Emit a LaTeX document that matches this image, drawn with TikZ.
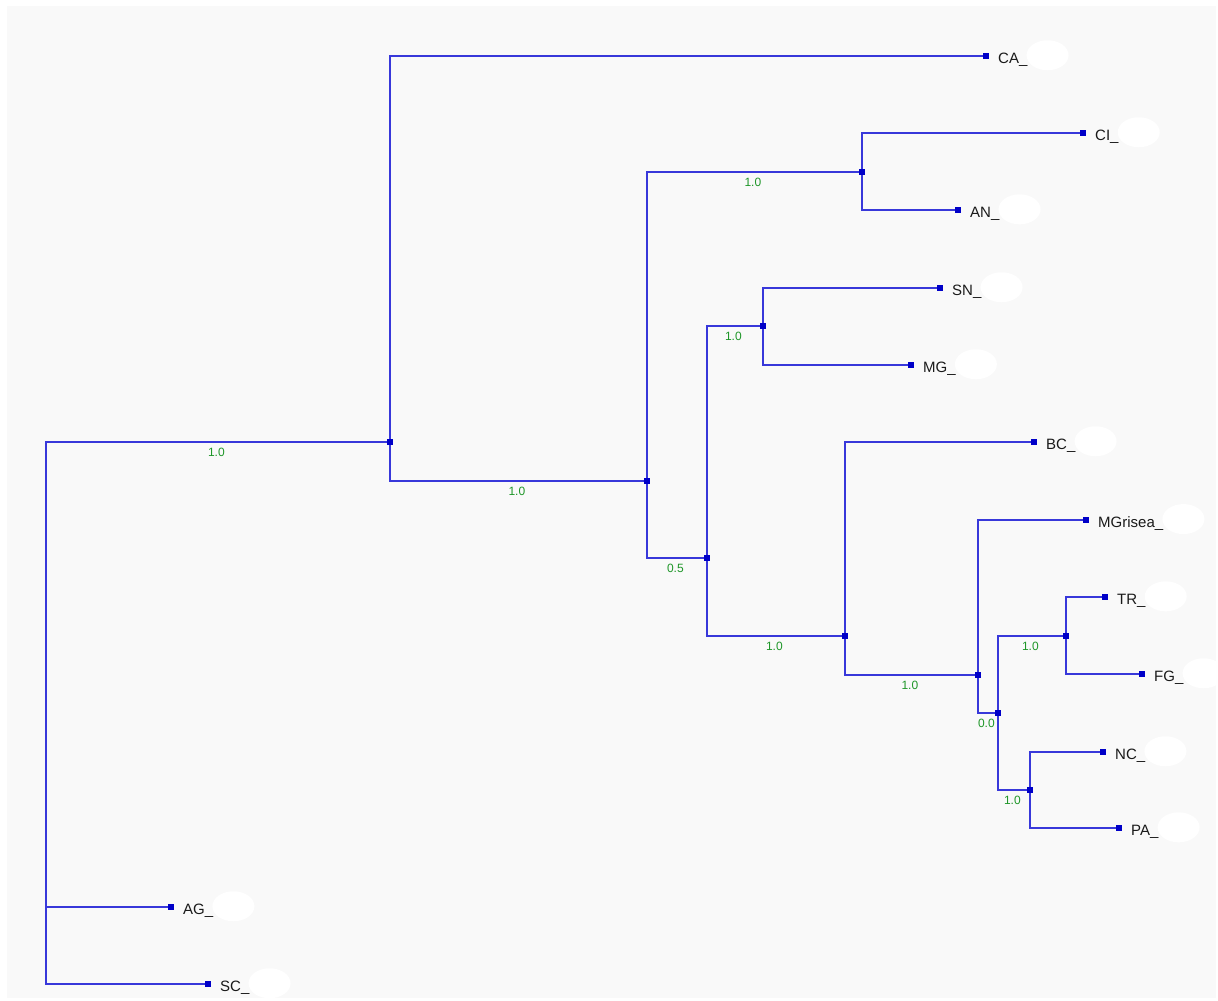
\documentclass[tikz,border=0pt]{standalone}
\usepackage{fontspec}
\setmainfont{Liberation Sans}
\usetikzlibrary{calc}
\definecolor{bg}{HTML}{F9F9F9}
\definecolor{linec}{HTML}{3838DA}
\definecolor{sqc}{HTML}{0000C8}
\definecolor{lblg}{HTML}{1E9628}
\definecolor{txt}{HTML}{1A1A1A}
\tikzset{
  jn/.style={rectangle, fill=sqc, minimum size=6pt, inner sep=0pt},
  br/.style={draw=linec, line width=1.6pt},
  bl/.style={font=\fontsize{12}{12}\selectfont, text=lblg, anchor=base, yshift=-14pt, inner sep=0pt},
  leaflbl/.style={font=\fontsize{15}{15}\selectfont, text=txt, anchor=base west, inner sep=0pt},
  blob/.style={fill=white, draw=none, ellipse, minimum width=42pt, minimum height=30pt}
}
\usetikzlibrary{shapes.geometric}
\begin{document}
\begin{tikzpicture}[x=1pt,y=-1pt]
\useasboundingbox (0,0) rectangle (1218,1001);
\fill[bg] (7,6) rectangle (1216,998);
% internal nodes
\coordinate (root) at (46,713);
\node[jn] (n1) at (390,442) {};
\node[jn] (n2) at (647,481) {};
\node[jn] (n3) at (862,172) {};
\node[jn] (n4) at (707,558) {};
\node[jn] (n5) at (763,326) {};
\node[jn] (n6) at (845,636) {};
\node[jn] (n7) at (978,675) {};
\node[jn] (n8) at (998,713) {};
\node[jn] (n9) at (1066,636) {};
\node[jn] (n10) at (1030,790) {};
% leaves
\node[jn] (CA) at (986,56) {};
\node[jn] (CI) at (1083,133) {};
\node[jn] (AN) at (958,210) {};
\node[jn] (SN) at (940,288) {};
\node[jn] (MG) at (911,365) {};
\node[jn] (BC) at (1034,442) {};
\node[jn] (MGr) at (1086,520) {};
\node[jn] (TR) at (1105,597) {};
\node[jn] (FG) at (1142,674) {};
\node[jn] (NC) at (1103,752) {};
\node[jn] (PA) at (1119,828) {};
\node[jn] (AG) at (171,907) {};
\node[jn] (SC) at (208,984) {};
% branches
\draw[br] (root) |- (n1) node[bl,pos=0.75] {1.0};
\draw[br] (root) |- (AG);
\draw[br] (root) |- (SC);
\draw[br] (n1) |- (CA);
\draw[br] (n1) |- (n2) node[bl,pos=0.75] {1.0};
\draw[br] (n2) |- (n3) node[bl,pos=0.75] {1.0};
\draw[br] (n2) |- (n4) node[bl,pos=0.75] {0.5};
\draw[br] (n3) |- (CI);
\draw[br] (n3) |- (AN);
\draw[br] (n4) |- (n5) node[bl,pos=0.75] {1.0};
\draw[br] (n4) |- (n6) node[bl,pos=0.75] {1.0};
\draw[br] (n5) |- (SN);
\draw[br] (n5) |- (MG);
\draw[br] (n6) |- (BC);
\draw[br] (n6) |- (n7) node[bl,pos=0.75] {1.0};
\draw[br] (n7) |- (MGr);
\draw[br] (n7) |- (n8) node[bl,pos=0.75] {0.0};
\draw[br] (n8) |- (n9) node[bl,pos=0.75] {1.0};
\draw[br] (n8) |- (n10) node[bl,pos=0.75] {1.0};
\draw[br] (n9) |- (TR);
\draw[br] (n9) |- (FG);
\draw[br] (n10) |- (NC);
\draw[br] (n10) |- (PA);
% leaf labels
\foreach \n/\t in {CA/CA\_, CI/CI\_, AN/AN\_, SN/SN\_, MG/MG\_, BC/BC\_, MGr/MGrisea\_, TR/TR\_, FG/FG\_, NC/NC\_, PA/PA\_, AG/AG\_, SC/SC\_}{
  \node[leaflbl] (\n-l) at ($(\n)+(12,7)$) {\t};
  \node[blob] (\n-b) at ($(\n-l.east)+(20,-4)$) {};
}
\end{tikzpicture}
\end{document}
